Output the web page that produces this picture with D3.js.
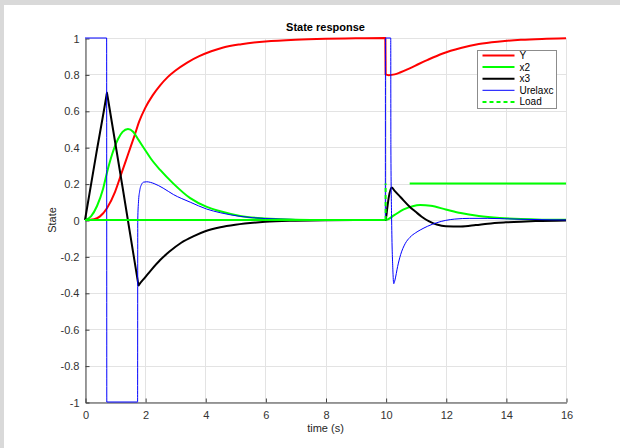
<!DOCTYPE html>
<html>
<head>
<meta charset="utf-8">
<script src="https://cdn.jsdelivr.net/npm/d3@7"></script>
<style>
  html, body { margin: 0; padding: 0; background: #d9d9d9; }
  svg { display: block; font-family: "Liberation Sans", Arial, Helvetica, sans-serif; }
</style>
</head>
<body>
<svg id="fig" width="620" height="448"></svg>
<script>
// ---- data ----------------------------------------------------------------
const xTicks = [0, 2, 4, 6, 8, 10, 12, 14, 16];
const yTicks = [-1, -0.8, -0.6, -0.4, -0.2, 0, 0.2, 0.4, 0.6, 0.8, 1];
const yTickLabels = ["-1", "-0.8", "-0.6", "-0.4", "-0.2", "0", "0.2", "0.4", "0.6", "0.8", "1"];
const seriesNames = ["Y", "x2", "x3", "Urelaxc", "Load"];

// output Y
const timeY = [0, 0.3, 0.5, 0.73, 1.0, 1.2, 1.43, 1.66, 1.8, 2.0, 2.25, 2.5, 2.75, 3.0, 3.4, 3.8, 4.2, 4.6, 5.2, 6, 7, 8, 9, 9.99,
               10.0, 10.1, 10.3, 10.5, 10.8, 11.1, 11.4, 11.9, 12.5, 13.1, 13.8, 14.5, 15.2, 16];
const valueY = [0, 0.004, 0.02, 0.065, 0.155, 0.25, 0.36, 0.47, 0.54, 0.615, 0.685, 0.74, 0.785, 0.82, 0.865, 0.9, 0.927, 0.948, 0.966, 0.981, 0.991, 0.996, 0.998, 1.0,
                0.8, 0.796, 0.8, 0.812, 0.833, 0.857, 0.88, 0.915, 0.945, 0.967, 0.981, 0.99, 0.995, 0.998];

// state x2
const timeX2 = [0, 0.2, 0.4, 0.6, 0.73, 0.9, 1.1, 1.25, 1.43, 1.6, 1.78, 2.0, 2.2, 2.5, 2.94, 3.5, 4.05, 4.5, 5.16, 6, 7, 8, 10,
                10.3, 10.6, 10.9, 11.15, 11.5, 12.0, 12.5, 13.1, 13.8, 14.5, 15.2, 16];
const valueX2 = [0, 0.02, 0.077, 0.17, 0.26, 0.36, 0.445, 0.484, 0.5, 0.485, 0.44, 0.385, 0.335, 0.275, 0.2, 0.12, 0.072, 0.048, 0.022, 0.008, 0.002, 0, 0,
                 0.028, 0.058, 0.076, 0.082, 0.078, 0.058, 0.038, 0.022, 0.011, 0.005, 0.002, 0.001];

// state x3
const timeX3 = [0, 0.36, 0.71, 0.73, 0.75, 1.25, 1.76, 1.78, 1.8, 2.0, 2.2, 2.5, 2.8, 3.2, 3.6, 4.0, 4.5, 5, 6, 7, 8, 10,
                10.05, 10.1, 10.2, 10.3, 10.5, 10.8, 11.0, 11.2, 11.45, 11.7, 12.0, 12.5, 13.0, 13.4, 14.0, 14.5, 15, 16];
const valueX3 = [0, 0.35, 0.68, 0.70, 0.68, 0.18, -0.34, -0.36, -0.355, -0.315, -0.275, -0.22, -0.175, -0.125, -0.09, -0.062, -0.04, -0.026, -0.01, -0.004, -0.001, 0,
                 0.06, 0.12, 0.178, 0.16, 0.125, 0.073, 0.045, 0.018, -0.008, -0.025, -0.035, -0.036, -0.028, -0.02, -0.013, -0.009, -0.006, -0.003];

// control signal Urelaxc
const timeU = [0, 0.72, 0.725, 1.75, 1.755, 1.78, 1.82, 1.88, 1.95, 2.05, 2.3, 2.6, 2.94, 3.5, 4.05, 4.5, 5.16, 6, 7, 8, 9.99,
               9.995, 10.17, 10.175, 10.2, 10.24, 10.27, 10.31, 10.4, 10.5, 10.65, 10.81, 11.0, 11.15, 11.4, 11.7, 12.0, 12.3, 12.8, 13.4, 14.5, 15.5, 16];
const valueU = [1, 1, -1, -1, 0, 0.1, 0.16, 0.195, 0.208, 0.21, 0.2, 0.175, 0.14, 0.098, 0.06, 0.04, 0.02, 0.008, 0.003, 0.001, 0,
                1, 1, 0.4, 0, -0.27, -0.35, -0.33, -0.255, -0.19, -0.13, -0.095, -0.07, -0.055, -0.034, -0.015, -0.002, 0.005, 0.009, 0.009, 0.004, 0.001, 0];

// load disturbance
const timeLoad = [0, 10, 10, 16];
const valueLoad = [0, 0, 0.2, 0.2];

// ---- layout ----------------------------------------------------------------
const svg = d3.select("#fig");
const plot = { left: 85, right: 566, top: 38, bottom: 402 };

// white figure area inside the grey window frame
svg.append("rect").attr("x", 4).attr("y", 5).attr("width", 616).attr("height", 443).attr("fill", "#ffffff");

const x = d3.scaleLinear().domain([0, 16]).range([plot.left, plot.right]);
const y = d3.scaleLinear().domain([-1, 1]).range([plot.bottom, plot.top]);

const zip = (t, v) => t.map((d, i) => [d, v[i]]);

// grid
const grid = svg.append("g").attr("stroke", "#e3e3e3").attr("stroke-width", 1);
xTicks.forEach(t => {
  const px = Math.round(x(t)) + 0.5;
  grid.append("line").attr("x1", px).attr("x2", px).attr("y1", plot.top).attr("y2", plot.bottom);
});
yTicks.forEach(v => {
  const py = Math.round(y(v)) + 0.5;
  grid.append("line").attr("x1", plot.left).attr("x2", plot.right).attr("y1", py).attr("y2", py);
});

// axes (left and bottom, ticks pointing inward)
const axisColor = "#404040";
const xAxis = svg.append("g")
  .attr("transform", `translate(0.5,${Math.round(y(-1)) + 0.5})`)
  .call(d3.axisBottom(x).tickValues(xTicks).tickSizeInner(-4).tickSizeOuter(0).tickPadding(9).tickFormat(d3.format("d")));
const yAxis = svg.append("g")
  .attr("transform", `translate(${Math.round(x(0)) + 0.5},0.5)`)
  .call(d3.axisLeft(y).tickValues(yTicks).tickSizeInner(-4).tickSizeOuter(0).tickPadding(6)
        .tickFormat((d, i) => yTickLabels[i]));
[xAxis, yAxis].forEach(a => {
  a.select(".domain").attr("stroke", axisColor);
  a.selectAll(".tick line").attr("stroke", axisColor);
  a.selectAll(".tick text").attr("fill", "#333").attr("font-size", 11)
    .attr("font-family", "'Liberation Sans', Arial, sans-serif");
});

// series
const line = d3.line().x(d => x(d[0])).y(d => y(d[1])).curve(d3.curveMonotoneX);
const layer = svg.append("g").attr("fill", "none").attr("stroke-linejoin", "round");

const styles = {
  "Y":       { color: "#ff0000", width: 2 },
  "x2":      { color: "#00ff00", width: 2 },
  "x3":      { color: "#000000", width: 2 },
  "Urelaxc": { color: "#0000ff", width: 1 },
  "Load":    { color: "#00ff00", width: 2, dash: "4,3" }
};

layer.append("path").attr("d", line(zip(timeY, valueY))).attr("stroke", styles.Y.color).attr("stroke-width", styles.Y.width);
layer.append("path").attr("d", line(zip(timeX2, valueX2))).attr("stroke", styles.x2.color).attr("stroke-width", styles.x2.width);
layer.append("path").attr("d", line(zip(timeX3, valueX3))).attr("stroke", styles.x3.color).attr("stroke-width", styles.x3.width);
layer.append("path").attr("d", line(zip(timeU, valueU))).attr("stroke", styles.Urelaxc.color).attr("stroke-width", styles.Urelaxc.width);

// load: drawn segment by segment; the step edge is dashed, the flat runs read as solid
const loadPts = zip(timeLoad, valueLoad);
const straight = d3.line().x(d => x(d[0])).y(d => y(d[1]));
for (let i = 0; i < loadPts.length - 1; i++) {
  const a = loadPts[i], b = loadPts[i + 1];
  const seg = layer.append("path").attr("d", straight([a, b]))
    .attr("stroke", styles.Load.color).attr("stroke-width", styles.Load.width);
  if (a[0] === b[0]) {
    seg.attr("stroke-dasharray", styles.Load.dash);
  } else if (i > 0) {
    // the run after the step begins one dash cycle later
    seg.attr("stroke-dasharray", `0 ${x(10.8) - x(10)} 2000`);
  }
}

// title and axis labels
svg.append("text").attr("x", (plot.left + plot.right) / 2).attr("y", 31)
  .attr("text-anchor", "middle").attr("font-size", 11).attr("font-weight", "bold").attr("fill", "#000")
  .text("State response");
svg.append("text").attr("x", (plot.left + plot.right) / 2).attr("y", 432)
  .attr("text-anchor", "middle").attr("font-size", 11).attr("fill", "#262626")
  .text("time (s)");
svg.append("text").attr("transform", `translate(56,${y(0)}) rotate(-90)`)
  .attr("text-anchor", "middle").attr("font-size", 11).attr("fill", "#262626")
  .text("State");

// legend
const lg = svg.append("g").attr("transform", "translate(477.5,50.5)");
lg.append("rect").attr("width", 79).attr("height", 58).attr("fill", "#fff").attr("stroke", "#8c8c8c");
seriesNames.forEach((name, i) => {
  const s = styles[name];
  const ly = 5 + i * 11.6;
  lg.append("line").attr("x1", 5).attr("x2", 37).attr("y1", ly).attr("y2", ly)
    .attr("stroke", s.color).attr("stroke-width", s.width).attr("stroke-dasharray", s.dash || null);
  lg.append("text").attr("x", 42).attr("y", ly + 3.5).attr("font-size", 10).attr("fill", "#000").text(name);
});
</script>
</body>
</html>
